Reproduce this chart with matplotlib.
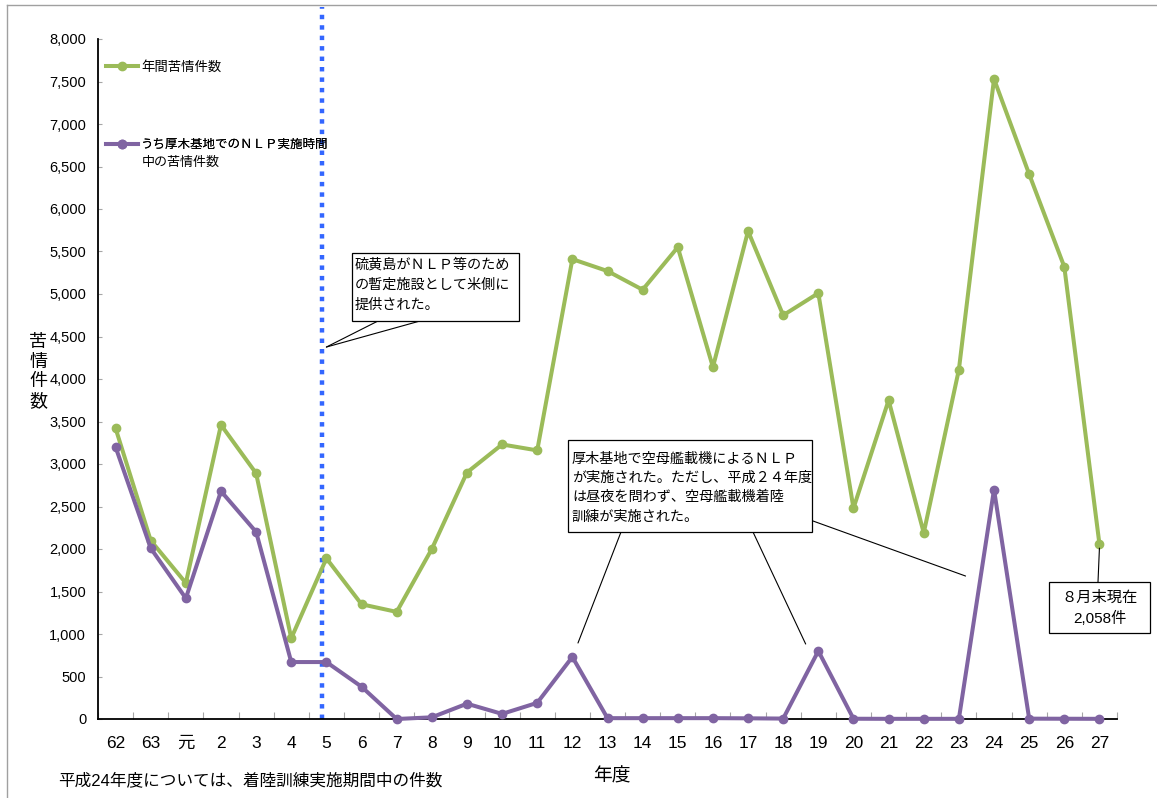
import matplotlib
matplotlib.use('Agg')
import matplotlib.pyplot as plt
from matplotlib.lines import Line2D
from matplotlib.patches import Rectangle
from matplotlib.ticker import FuncFormatter

plt.rcParams['font.family'] = ['Liberation Sans', 'Noto Sans CJK JP', 'DejaVu Sans']

# ---- data ----
years = ['62', '63', '元', '2', '3', '4', '5', '6', '7', '8', '9', '10', '11', '12',
         '13', '14', '15', '16', '17', '18', '19', '20', '21', '22', '23', '24', '25', '26', '27']
total = [3420, 2100, 1600, 3460, 2890, 950, 1890, 1350, 1260, 2000, 2900, 3230, 3160, 5410,
         5270, 5050, 5550, 4140, 5740, 4750, 5010, 2480, 3750, 2190, 4110, 7530, 6410, 5320, 2058]
nlp = [3200, 2010, 1420, 2680, 2200, 670, 670, 380, 0, 20, 180, 60, 190, 730,
       10, 10, 10, 10, 8, 5, 800, 3, 2, 2, 2, 2700, 4, 3, 2]
yticks = list(range(0, 8001, 500))
label_total = '年間苦情件数'
label_nlp = ['うち厚木基地でのＮＬＰ実施時間', '中の苦情件数']
note1 = ['硫黄島がＮＬＰ等のため', 'の暫定施設として米側に', '提供された。']
note2 = ['厚木基地で空母艦載機によるＮＬＰ', 'が実施された。ただし、平成２４年度',
         'は昼夜を問わず、空母艦載機着陸', '訓練が実施された。']
note3 = ['８月末現在', '2,058件']
footnote = '平成24年度については、着陸訓練実施期間中の件数'

W, H = 1157, 798
fig = plt.figure(figsize=(W / 100, H / 100), dpi=100)
fig.patch.set_facecolor('white')


def fx(x):
    return x / W


def fy(y):
    return 1 - y / H


ax = fig.add_axes([fx(98), fy(719), 1019 / W, 680 / H])
xs = list(range(len(years)))
green = '#9bbb59'
purple = '#8064a2'

ax.plot(xs, total, color=green, lw=2.9, marker='o', ms=6, zorder=3, clip_on=False)
ax.plot(xs, nlp, color=purple, lw=2.9, marker='o', ms=6, zorder=4, clip_on=False)

ax.set_xlim(-0.5, len(years) - 0.5)
ax.set_ylim(0, 8000)
ax.set_yticks(yticks)
ax.yaxis.set_major_formatter(FuncFormatter(lambda v, p: f'{int(v):,}'))
ax.set_xticks(xs)
ax.set_xticklabels(years)
ax.set_xticks([i - 0.5 for i in range(len(years) + 1)], minor=True)
ax.tick_params(axis='x', which='major', length=0, labelsize=12.5, pad=12)
ax.tick_params(axis='x', which='minor', direction='in', length=5, color='#a6a6a6', width=0.8)
ax.tick_params(axis='y', direction='in', length=3, color='#a6a6a6', width=0.8,
               labelsize=10.5, pad=8.5)
for s in ['top', 'right']:
    ax.spines[s].set_visible(False)
for s in ['left', 'bottom']:
    ax.spines[s].set_linewidth(1.3)
    ax.spines[s].set_color('black')

# vertical dotted line (H5)
ax.axvline(5.87, ymin=0, ymax=(719 - 7) / 680, color='#3366ff', lw=3.2,
           linestyle=(0, (1, 1.35)), dash_capstyle='butt', clip_on=False, zorder=2)

# legends
h1 = Line2D([], [], color=green, lw=2.9, marker='o', ms=6)
h2 = Line2D([], [], color=purple, lw=2.9, marker='o', ms=6)
leg1 = ax.legend([h1], [label_total], loc='center left', bbox_to_anchor=(fx(106), fy(67)),
                 bbox_transform=fig.transFigure, frameon=False, fontsize=9.6,
                 handlelength=2.4, handletextpad=0.25, borderpad=0, borderaxespad=0, numpoints=1)
ax.add_artist(leg1)
leg2 = ax.legend([h2], [label_nlp[0]], loc='center left', bbox_to_anchor=(fx(106), fy(145)),
                 bbox_transform=fig.transFigure, frameon=False, fontsize=9.0,
                 handlelength=2.55, handletextpad=0.27, borderpad=0, borderaxespad=0, numpoints=1)
ax.add_artist(leg2)
fig.text(fx(142), fy(163), label_nlp[1], fontsize=9.4, ha='left', va='center')

# axis titles
fig.text(fx(38), fy(372), '苦\n情\n件\n数', fontsize=13, ha='center', va='center', linespacing=1.2)
fig.text(fx(612), fy(777), '年度', fontsize=13.5, ha='center', va='center')
fig.text(fx(58), fy(780), footnote, fontsize=12, ha='left', va='center')


def box(x0, y0, x1, y1, lines, tx, ty0, pitch, ha='left', fs=10.2):
    r = Rectangle((fx(x0), fy(y1)), (x1 - x0) / W, (y1 - y0) / H, transform=fig.transFigure,
                  fc='white', ec='black', lw=0.9, zorder=5)
    fig.add_artist(r)
    for i, t in enumerate(lines):
        fig.text(fx(tx), fy(ty0 + i * pitch), t, fontsize=fs, ha=ha, va='center', zorder=6)


def leader(start, target):
    ax.annotate('', xy=target, xycoords='data', xytext=(start[0], H - start[1]),
                textcoords='figure pixels',
                arrowprops=dict(arrowstyle='-', color='black', lw=0.8, shrinkA=0, shrinkB=0))


# note 1
leader((378, 321), (6, 4376))
leader((420, 321), (6, 4376))
box(352, 253, 519, 321, note1, 355, 265, 20)

# note 2
leader((621, 532), (13.16, 894))
leader((753, 532), (19.64, 882))
leader((813, 521), (24.19, 1682))
box(568, 440, 812, 532, note2, 572, 459, 19.2)

# note 3
leader((1098, 582), (28, 2010))
box(1049, 582, 1150, 633, note3, 1100, 598, 20, ha='center', fs=11)

# outer border (top and left)
fig.add_artist(Line2D([fx(7), 1], [fy(5), fy(5)], transform=fig.transFigure, color='#a0a0a0', lw=1))
fig.add_artist(Line2D([fx(7), fx(7)], [fy(5), 0], transform=fig.transFigure, color='#a0a0a0', lw=1))

fig.savefig('out.png', dpi=100, facecolor='white')
